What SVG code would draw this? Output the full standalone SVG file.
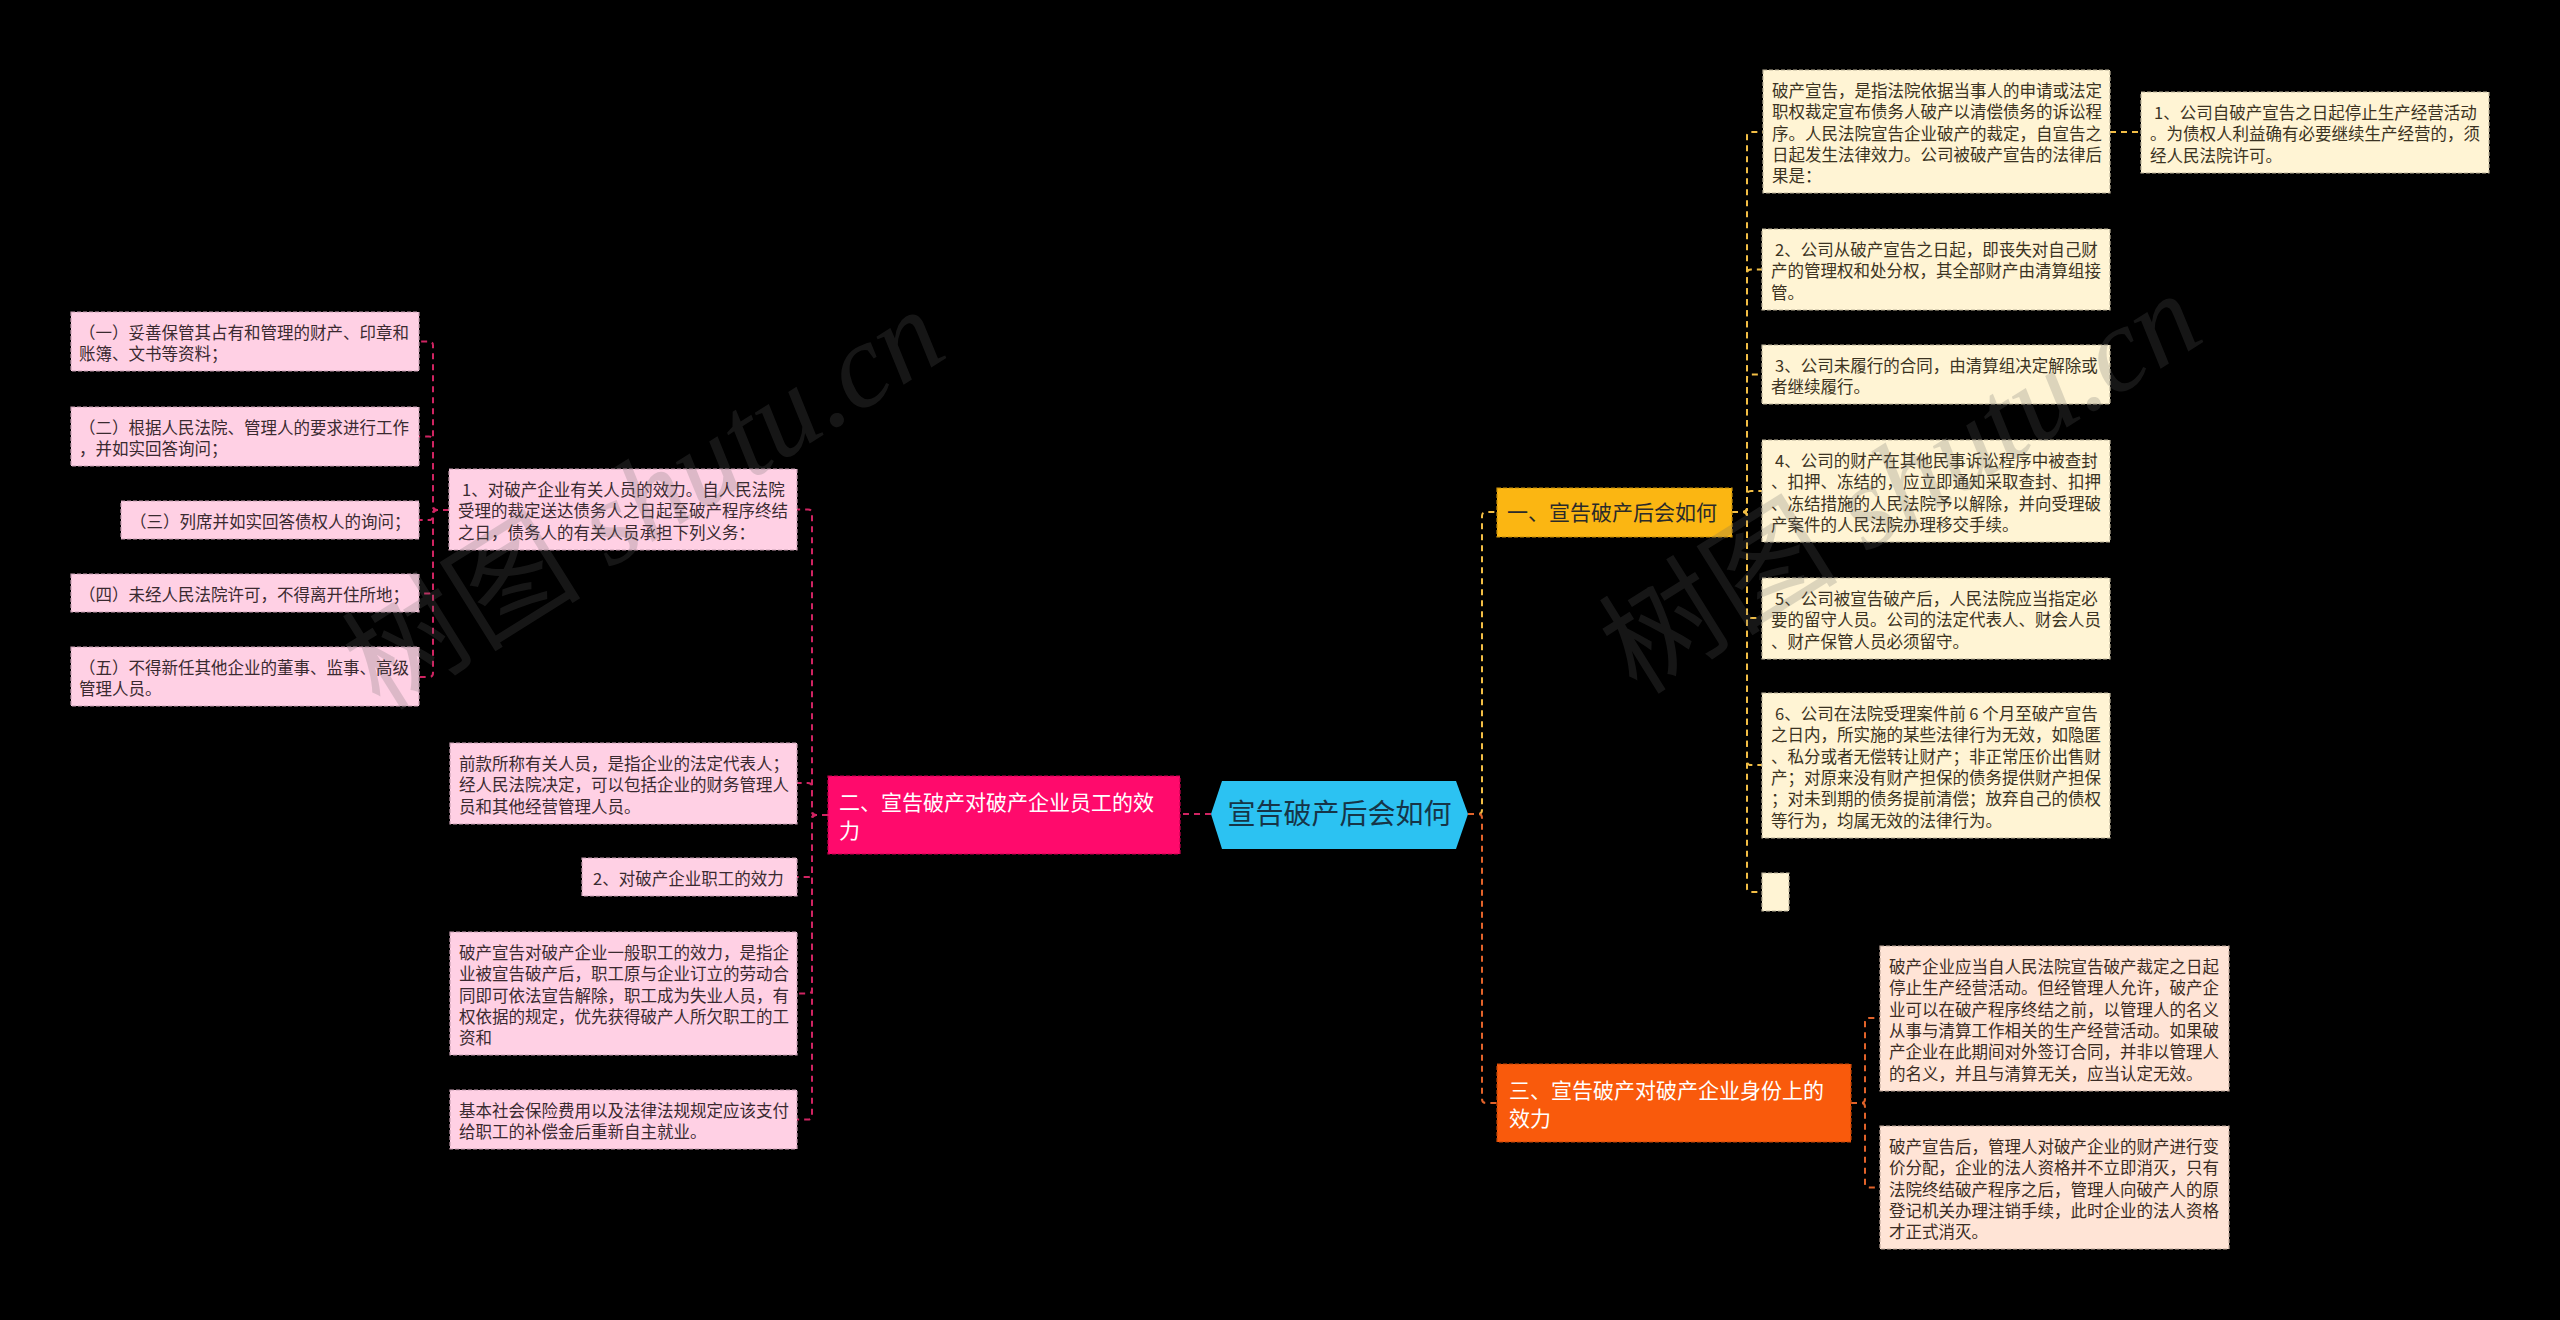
<svg xmlns="http://www.w3.org/2000/svg" width="2560" height="1320" viewBox="0 0 2560 1320">
<style>
.t{font-family:"Noto Sans CJK SC","Microsoft YaHei",sans-serif;font-size:16.5px}
.tb{font-family:"Noto Sans CJK SC","Microsoft YaHei",sans-serif;font-size:21px}
.pk rect{fill:#FFD0E4;stroke:#C9A0B3;stroke-width:1.2;stroke-dasharray:4 2}
.pk text{fill:#3a2a30}
.cr rect{fill:#FFF4D4;stroke:#BDB39A;stroke-width:1.2;stroke-dasharray:4 2}
.cr text{fill:#3b3322}
.pc rect{fill:#FFE4D6;stroke:#C0A89A;stroke-width:1.2;stroke-dasharray:4 2}
.pc text{fill:#3b2c24}
.lk path{fill:none;stroke-width:2;stroke-dasharray:6 5}
.lp{stroke:#D02462}
.ly{stroke:#F2BE45}
.lo{stroke:#E2632A}
.wm{font-size:120px;fill:#666;opacity:0.22}
</style>
<rect width="2560" height="1320" fill="#000"/>

<g id="connectors" class="lk">
<path class="lp" d="M1211 814 H1180"/>
<path class="ly" d="M1468 814 H1478 Q1482 814 1482 810 V516 Q1482 512 1486 512 H1497"/>
<path class="lo" d="M1468 814 H1478 Q1482 814 1482 818 V1099 Q1482 1103 1486 1103 H1497"/>
<path class="ly" d="M1732 512 H1743 Q1747 512 1747 508 V136 Q1747 132 1751 132 H1763"/>
<path class="ly" d="M1732 512 H1743 Q1747 512 1747 508 V273.5 Q1747 269.5 1751 269.5 H1762"/>
<path class="ly" d="M1732 512 H1743 Q1747 512 1747 508 V378.5 Q1747 374.5 1751 374.5 H1762"/>
<path class="ly" d="M1732 512 H1743 Q1747 512 1747 508 V495 Q1747 491 1751 491 H1762"/>
<path class="ly" d="M1732 512 H1743 Q1747 512 1747 516 V614 Q1747 618 1751 618 H1762"/>
<path class="ly" d="M1732 512 H1743 Q1747 512 1747 516 V761 Q1747 765 1751 765 H1762"/>
<path class="ly" d="M1732 512 H1743 Q1747 512 1747 516 V888 Q1747 892 1751 892 H1762"/>
<path class="ly" d="M2110 132 H2141"/>
<path class="lo" d="M1851 1103 H1861 Q1865 1103 1865 1099 V1022 Q1865 1018 1869 1018 H1880"/>
<path class="lo" d="M1851 1103 H1861 Q1865 1103 1865 1107 V1183.5 Q1865 1187.5 1869 1187.5 H1880"/>
<path class="lp" d="M828 815 H816 Q812 815 812 811 V513.5 Q812 509.5 808 509.5 H797"/>
<path class="lp" d="M828 815 H816 Q812 815 812 811 V787 Q812 783 808 783 H797"/>
<path class="lp" d="M828 815 H816 Q812 815 812 819 V873 Q812 877 808 877 H797"/>
<path class="lp" d="M828 815 H816 Q812 815 812 819 V989.5 Q812 993.5 808 993.5 H797"/>
<path class="lp" d="M828 815 H816 Q812 815 812 819 V1115.5 Q812 1119.5 808 1119.5 H797"/>
<path class="lp" d="M449 510 H437 Q433 510 433 506 V345.5 Q433 341.5 429 341.5 H419"/>
<path class="lp" d="M449 510 H437 Q433 510 433 506 V440.5 Q433 436.5 429 436.5 H419"/>
<path class="lp" d="M449 510 H437 Q433 510 433 514 V516 Q433 520 429 520 H419"/>
<path class="lp" d="M449 510 H437 Q433 510 433 514 V589.5 Q433 593.5 429 593.5 H419"/>
<path class="lp" d="M449 510 H437 Q433 510 433 514 V673 Q433 677 429 677 H419"/>
</g>

<g id="root">
<polygon points="1211,814 1222,781 1456,781 1468,814 1456,849 1222,849" fill="#2CC2F2"/>
<text x="1339.5" y="824" text-anchor="middle" font-family="Noto Sans CJK SC, sans-serif" font-size="28" fill="#163548">宣告破产后会如何</text>
</g>

<g id="branch1">
<rect x="1497" y="488" width="235" height="49" fill="#FBB612" stroke="#C78F0A" stroke-width="1.2" stroke-dasharray="4 2"/>
<text class="tb" x="1507" y="519.5" fill="#2a2a2a">一、宣告破产后会如何</text>
</g>

<g id="branch2">
<rect x="828" y="776" width="352" height="78" fill="#FF0A6C" stroke="#C7004F" stroke-width="1.2" stroke-dasharray="4 2"/>
<text class="tb" fill="#fff"><tspan x="839" y="809.5">二、宣告破产对破产企业员工的效</tspan><tspan x="839" y="837.5">力</tspan></text>
</g>

<g id="branch3">
<rect x="1497" y="1064" width="354" height="78" fill="#F95A0C" stroke="#C44608" stroke-width="1.2" stroke-dasharray="4 2"/>
<text class="tb" fill="#fff"><tspan x="1509" y="1097.5">三、宣告破产对破产企业身份上的</tspan><tspan x="1509" y="1125.5">效力</tspan></text>
</g>

<g id="b1-intro" class="cr">
<rect x="1763" y="70" width="347" height="123"/>
<text class="t"><tspan x="1772" y="97">破产宣告，是指法院依据当事人的申请或法定</tspan><tspan x="1772" y="118.3">职权裁定宣布债务人破产以清偿债务的诉讼程</tspan><tspan x="1772" y="139.6">序。人民法院宣告企业破产的裁定，自宣告之</tspan><tspan x="1772" y="160.9">日起发生法律效力。公司被破产宣告的法律后</tspan><tspan x="1772" y="182.2">果是：</tspan></text>
</g>
<g id="b1-sub1" class="cr">
<rect x="2141" y="92" width="348" height="81"/>
<text class="t"><tspan x="2154" y="119">1、公司自破产宣告之日起停止生产经营活动</tspan><tspan x="2150" y="140.3">。为债权人利益确有必要继续生产经营的，须</tspan><tspan x="2150" y="161.6">经人民法院许可。</tspan></text>
</g>
<g id="b1-c2" class="cr">
<rect x="1762" y="229" width="348" height="81"/>
<text class="t"><tspan x="1775" y="256">2、公司从破产宣告之日起，即丧失对自己财</tspan><tspan x="1771" y="277.3">产的管理权和处分权，其全部财产由清算组接</tspan><tspan x="1771" y="298.6">管。</tspan></text>
</g>
<g id="b1-c3" class="cr">
<rect x="1762" y="345" width="348" height="59"/>
<text class="t"><tspan x="1775" y="372">3、公司未履行的合同，由清算组决定解除或</tspan><tspan x="1771" y="393.3">者继续履行。</tspan></text>
</g>
<g id="b1-c4" class="cr">
<rect x="1762" y="440" width="348" height="102"/>
<text class="t"><tspan x="1775" y="467">4、公司的财产在其他民事诉讼程序中被查封</tspan><tspan x="1771" y="488.3">、扣押、冻结的，应立即通知采取查封、扣押</tspan><tspan x="1771" y="509.6">、冻结措施的人民法院予以解除，并向受理破</tspan><tspan x="1771" y="530.9">产案件的人民法院办理移交手续。</tspan></text>
</g>
<g id="b1-c5" class="cr">
<rect x="1762" y="578" width="348" height="81"/>
<text class="t"><tspan x="1775" y="605">5、公司被宣告破产后，人民法院应当指定必</tspan><tspan x="1771" y="626.3">要的留守人员。公司的法定代表人、财会人员</tspan><tspan x="1771" y="647.6">、财产保管人员必须留守。</tspan></text>
</g>
<g id="b1-c6" class="cr">
<rect x="1762" y="693" width="348" height="145"/>
<text class="t"><tspan x="1775" y="720">6、公司在法院受理案件前 6 个月至破产宣告</tspan><tspan x="1771" y="741.3">之日内，所实施的某些法律行为无效，如隐匿</tspan><tspan x="1771" y="762.6">、私分或者无偿转让财产；非正常压价出售财</tspan><tspan x="1771" y="783.9">产；对原来没有财产担保的债务提供财产担保</tspan><tspan x="1771" y="805.2">；对未到期的债务提前清偿；放弃自己的债权</tspan><tspan x="1771" y="826.5">等行为，均属无效的法律行为。</tspan></text>
</g>
<g id="b1-c7" class="cr">
<rect x="1762" y="873" width="27" height="38"/>
</g>

<g id="b3-c1" class="pc">
<rect x="1880" y="946" width="349" height="145"/>
<text class="t"><tspan x="1889" y="973">破产企业应当自人民法院宣告破产裁定之日起</tspan><tspan x="1889" y="994.3">停止生产经营活动。但经管理人允许，破产企</tspan><tspan x="1889" y="1015.6">业可以在破产程序终结之前，以管理人的名义</tspan><tspan x="1889" y="1036.9">从事与清算工作相关的生产经营活动。如果破</tspan><tspan x="1889" y="1058.2">产企业在此期间对外签订合同，并非以管理人</tspan><tspan x="1889" y="1079.5">的名义，并且与清算无关，应当认定无效。</tspan></text>
</g>
<g id="b3-c2" class="pc">
<rect x="1880" y="1126" width="349" height="123"/>
<text class="t"><tspan x="1889" y="1153">破产宣告后，管理人对破产企业的财产进行变</tspan><tspan x="1889" y="1174.3">价分配，企业的法人资格并不立即消灭，只有</tspan><tspan x="1889" y="1195.6">法院终结破产程序之后，管理人向破产人的原</tspan><tspan x="1889" y="1216.9">登记机关办理注销手续，此时企业的法人资格</tspan><tspan x="1889" y="1238.2">才正式消灭。</tspan></text>
</g>

<g id="b2-c1" class="pk">
<rect x="449" y="469" width="348" height="81"/>
<text class="t"><tspan x="462" y="496">1、对破产企业有关人员的效力。自人民法院</tspan><tspan x="458" y="517.3">受理的裁定送达债务人之日起至破产程序终结</tspan><tspan x="458" y="538.6">之日，债务人的有关人员承担下列义务：</tspan></text>
</g>
<g id="b2-c1-1" class="pk">
<rect x="71" y="312" width="348" height="59"/>
<text class="t"><tspan x="79" y="339">（一）妥善保管其占有和管理的财产、印章和</tspan><tspan x="79" y="360.3">账簿、文书等资料；</tspan></text>
</g>
<g id="b2-c1-2" class="pk">
<rect x="71" y="407" width="348" height="59"/>
<text class="t"><tspan x="79" y="434">（二）根据人民法院、管理人的要求进行工作</tspan><tspan x="79" y="455.3">，并如实回答询问；</tspan></text>
</g>
<g id="b2-c1-3" class="pk">
<rect x="121" y="501" width="298" height="38"/>
<text class="t" x="130" y="528">（三）列席并如实回答债权人的询问；</text>
</g>
<g id="b2-c1-4" class="pk">
<rect x="71" y="574" width="348" height="38"/>
<text class="t" x="79" y="601">（四）未经人民法院许可，不得离开住所地；</text>
</g>
<g id="b2-c1-5" class="pk">
<rect x="71" y="647" width="348" height="59"/>
<text class="t"><tspan x="79" y="674">（五）不得新任其他企业的董事、监事、高级</tspan><tspan x="79" y="695.3">管理人员。</tspan></text>
</g>
<g id="b2-c2" class="pk">
<rect x="450" y="743" width="347" height="81"/>
<text class="t"><tspan x="459" y="770">前款所称有关人员，是指企业的法定代表人；</tspan><tspan x="459" y="791.3">经人民法院决定，可以包括企业的财务管理人</tspan><tspan x="459" y="812.6">员和其他经营管理人员。</tspan></text>
</g>
<g id="b2-c3" class="pk">
<rect x="582" y="858" width="215" height="38"/>
<text class="t" x="593" y="885">2、对破产企业职工的效力</text>
</g>
<g id="b2-c4" class="pk">
<rect x="450" y="932" width="347" height="123"/>
<text class="t"><tspan x="459" y="959">破产宣告对破产企业一般职工的效力，是指企</tspan><tspan x="459" y="980.3">业被宣告破产后，职工原与企业订立的劳动合</tspan><tspan x="459" y="1001.6">同即可依法宣告解除，职工成为失业人员，有</tspan><tspan x="459" y="1022.9">权依据的规定，优先获得破产人所欠职工的工</tspan><tspan x="459" y="1044.2">资和</tspan></text>
</g>
<g id="b2-c5" class="pk">
<rect x="450" y="1090" width="347" height="59"/>
<text class="t"><tspan x="459" y="1117">基本社会保险费用以及法律法规规定应该支付</tspan><tspan x="459" y="1138.3">给职工的补偿金后重新自主就业。</tspan></text>
</g>

<g id="watermark">
<text class="wm" transform="translate(380,712) rotate(-32)"><tspan font-family="Noto Sans CJK SC, sans-serif">树图</tspan><tspan font-family="Liberation Serif, serif" font-style="italic"> shutu.cn</tspan></text>
<text class="wm" transform="translate(1637,696) rotate(-32)"><tspan font-family="Noto Sans CJK SC, sans-serif">树图</tspan><tspan font-family="Liberation Serif, serif" font-style="italic"> shutu.cn</tspan></text>
</g>
</svg>
